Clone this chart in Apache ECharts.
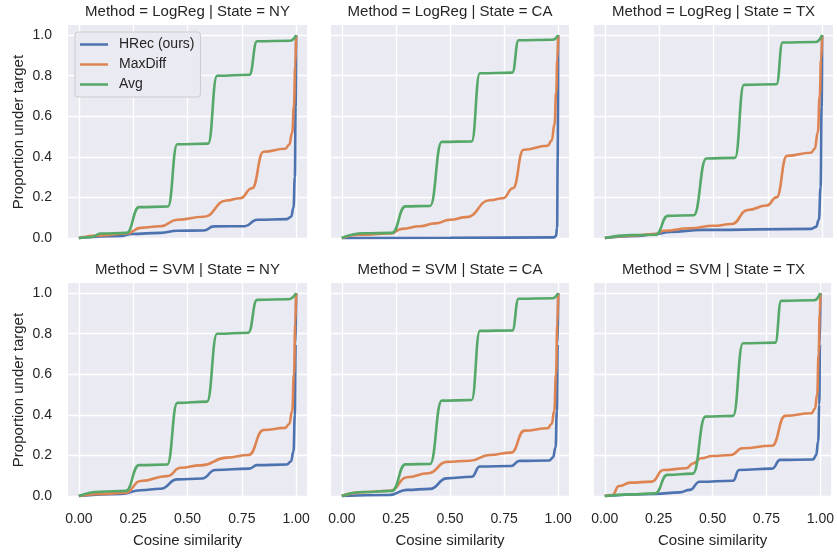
<!DOCTYPE html>
<html>
<head>
<meta charset="utf-8">
<script src="https://cdn.jsdelivr.net/npm/echarts@6/dist/echarts.min.js"></script>
<style>
html,body{margin:0;padding:0;background:#fff;}
#chart{width:837px;height:552px;}
</style>
</head>
<body>
<div id="chart"></div>
<script>
// ---- data ----
const panelTitles = [
  'Method = LogReg | State = NY', 'Method = LogReg | State = CA', 'Method = LogReg | State = TX',
  'Method = SVM | State = NY', 'Method = SVM | State = CA', 'Method = SVM | State = TX'
];
const seriesNames = ['HRec (ours)', 'MaxDiff', 'Avg'];
const xTicks = [0, 0.25, 0.5, 0.75, 1.0];
const xTickLabels = ['0.00', '0.25', '0.50', '0.75', '1.00'];
const yTicks = [0, 0.2, 0.4, 0.6, 0.8, 1.0];
const yTickLabels = ['0.0', '0.2', '0.4', '0.6', '0.8', '1.0'];
const xTitle = 'Cosine similarity';
const yTitle = 'Proportion under target';

// LogReg | NY
const logregNY_hrec = [[0,0],[0.2,0.01],[0.24,0.02],[0.376,0.025],[0.453,0.036],[0.575,0.037],[0.621,0.057],[0.765,0.058],[0.82,0.09],[0.957,0.093],[0.977,0.105],[0.988,0.15],[0.994,0.3],[0.998,0.65],[1.0,1.0]];
const logregNY_maxdiff = [[0,0],[0.10,0.013],[0.22,0.022],[0.284,0.05],[0.376,0.058],[0.453,0.09],[0.575,0.105],[0.68,0.185],[0.743,0.196],[0.797,0.245],[0.85,0.425],[0.95,0.44],[0.968,0.46],[0.982,0.52],[0.99,0.65],[0.996,0.85],[1.0,1.0]];
const logregNY_avg = [[0,0],[0.06,0.005],[0.10,0.022],[0.22,0.025],[0.277,0.152],[0.41,0.155],[0.453,0.462],[0.595,0.465],[0.636,0.80],[0.785,0.805],[0.82,0.97],[0.972,0.972],[1.0,1.0]];
// LogReg | CA
const logregCA_hrec = [[0,0],[0.5,0.001],[0.98,0.003],[0.99,0.01],[0.995,0.05],[0.998,0.4],[1.0,1.0]];
const logregCA_maxdiff = [[0,0],[0.08,0.016],[0.225,0.022],[0.278,0.045],[0.362,0.058],[0.431,0.072],[0.5,0.09],[0.576,0.103],[0.684,0.186],[0.745,0.196],[0.791,0.245],[0.84,0.435],[0.951,0.455],[0.97,0.48],[0.983,0.56],[0.991,0.72],[0.996,0.88],[1.0,1.0]];
const logregCA_avg = [[0,0],[0.102,0.023],[0.232,0.025],[0.294,0.156],[0.408,0.158],[0.462,0.474],[0.6,0.476],[0.638,0.812],[0.788,0.815],[0.817,0.975],[0.974,0.977],[1.0,1.0]];
// LogReg | TX
const logregTX_hrec = [[0,0],[0.15,0.01],[0.234,0.02],[0.3,0.03],[0.45,0.04],[0.95,0.045],[0.972,0.055],[0.985,0.09],[0.993,0.25],[0.998,0.65],[1.0,1.0]];
const logregTX_maxdiff = [[0,0],[0.1,0.01],[0.234,0.02],[0.272,0.036],[0.392,0.048],[0.5,0.06],[0.584,0.069],[0.658,0.138],[0.745,0.16],[0.79,0.2],[0.838,0.405],[0.949,0.42],[0.966,0.44],[0.98,0.52],[0.989,0.7],[0.995,0.88],[1.0,1.0]];
const logregTX_avg = [[0,0],[0.118,0.014],[0.234,0.016],[0.29,0.109],[0.409,0.112],[0.467,0.392],[0.599,0.395],[0.64,0.755],[0.79,0.758],[0.818,0.964],[0.971,0.966],[1.0,1.0]];
// SVM | NY
const svmNY_hrec = [[0,0],[0.193,0.01],[0.284,0.028],[0.376,0.036],[0.453,0.082],[0.567,0.086],[0.628,0.128],[0.785,0.135],[0.82,0.152],[0.957,0.155],[0.976,0.17],[0.988,0.22],[0.994,0.4],[0.998,0.75],[1.0,1.0]];
const svmNY_maxdiff = [[0,0],[0.1,0.01],[0.216,0.016],[0.284,0.074],[0.407,0.098],[0.468,0.139],[0.56,0.151],[0.682,0.189],[0.781,0.202],[0.85,0.325],[0.95,0.336],[0.968,0.355],[0.982,0.42],[0.99,0.6],[0.996,0.85],[1.0,1.0]];
const svmNY_avg = [[0,0],[0.1,0.021],[0.216,0.025],[0.277,0.152],[0.407,0.155],[0.453,0.459],[0.59,0.465],[0.636,0.80],[0.78,0.805],[0.82,0.967],[0.965,0.97],[1.0,1.0]];
// SVM | CA
const svmCA_hrec = [[0,0],[0.22,0.005],[0.301,0.03],[0.408,0.035],[0.485,0.087],[0.6,0.095],[0.638,0.145],[0.783,0.148],[0.821,0.173],[0.959,0.175],[0.976,0.19],[0.988,0.24],[0.994,0.42],[0.998,0.75],[1.0,1.0]];
const svmCA_maxdiff = [[0,0],[0.087,0.018],[0.225,0.026],[0.301,0.092],[0.4,0.112],[0.485,0.168],[0.592,0.174],[0.683,0.202],[0.783,0.214],[0.844,0.322],[0.951,0.334],[0.97,0.355],[0.982,0.42],[0.99,0.6],[0.996,0.85],[1.0,1.0]];
const svmCA_avg = [[0,0],[0.102,0.02],[0.232,0.025],[0.294,0.156],[0.408,0.158],[0.462,0.47],[0.6,0.473],[0.638,0.814],[0.788,0.816],[0.817,0.972],[0.974,0.975],[1.0,1.0]];
// SVM | TX
const svmTX_hrec = [[0,0],[0.234,0.01],[0.348,0.018],[0.394,0.03],[0.44,0.07],[0.595,0.075],[0.623,0.128],[0.776,0.135],[0.814,0.178],[0.966,0.18],[0.98,0.2],[0.99,0.27],[0.995,0.45],[0.998,0.75],[1.0,1.0]];
const svmTX_maxdiff = [[0,0],[0.035,0.005],[0.066,0.049],[0.119,0.066],[0.218,0.071],[0.272,0.128],[0.379,0.137],[0.409,0.16],[0.447,0.186],[0.5,0.197],[0.585,0.202],[0.638,0.235],[0.776,0.248],[0.837,0.395],[0.959,0.408],[0.975,0.43],[0.985,0.5],[0.992,0.7],[0.997,0.9],[1.0,1.0]];
const svmTX_avg = [[0,0],[0.119,0.008],[0.234,0.013],[0.29,0.104],[0.409,0.11],[0.467,0.391],[0.595,0.395],[0.641,0.753],[0.791,0.756],[0.818,0.962],[0.971,0.965],[1.0,1.0]];

const panelData = [
  [logregNY_hrec, logregNY_maxdiff, logregNY_avg],
  [logregCA_hrec, logregCA_maxdiff, logregCA_avg],
  [logregTX_hrec, logregTX_maxdiff, logregTX_avg],
  [svmNY_hrec, svmNY_maxdiff, svmNY_avg],
  [svmCA_hrec, svmCA_maxdiff, svmCA_avg],
  [svmTX_hrec, svmTX_maxdiff, svmTX_avg]
];

// ---- layout / style ----
const colors = ['#4C72B0', '#DD8452', '#55A868'];
const FONT = "'Liberation Sans', Arial, sans-serif";
const TXT = '#262626';
const colLeft = [68, 331, 594];
const colWidth = [239, 238, 239];
const rowTop = [25, 283];
const rowHeight = [214, 214];
const titleTop = [3, 261];

function lookup(ticks, labels, v) {
  for (let i = 0; i < ticks.length; i++) if (Math.abs(ticks[i] - v) < 1e-6) return labels[i];
  return '';
}

const grids = [], xAxes = [], yAxes = [], titles = [], series = [];
for (let p = 0; p < 6; p++) {
  const r = Math.floor(p / 3), c = p % 3;
  grids.push({
    left: colLeft[c], top: rowTop[r], width: colWidth[c], height: rowHeight[r],
    show: true, backgroundColor: '#EAEAF2', borderWidth: 0, containLabel: false
  });
  titles.push({
    text: panelTitles[p], left: colLeft[c] + colWidth[c] / 2, top: titleTop[r], textAlign: 'center', padding: 0,
    textStyle: { fontFamily: FONT, fontSize: 15, fontWeight: 'normal', color: TXT, lineHeight: 18 }
  });
  xAxes.push({
    type: 'value', gridIndex: p, min: -0.05, max: 1.05,
    axisLine: { show: false }, axisTick: { show: false, customValues: xTicks },
    splitLine: { show: true, lineStyle: { color: '#ffffff', width: 1.3 } },
    axisLabel: {
      show: r === 1, customValues: xTicks, margin: 15,
      fontFamily: FONT, fontSize: 14, color: TXT,
      formatter: v => lookup(xTicks, xTickLabels, v)
    },
    name: r === 1 ? xTitle : '', nameLocation: 'middle', nameGap: 36,
    nameTextStyle: { fontFamily: FONT, fontSize: 15, color: TXT }
  });
  yAxes.push({
    type: 'value', gridIndex: p, min: -0.005, max: 1.05,
    axisLine: { show: false }, axisTick: { show: false, customValues: yTicks },
    splitLine: { show: true, lineStyle: { color: '#ffffff', width: 1.3 } },
    axisLabel: {
      show: c === 0, customValues: yTicks, margin: 16,
      fontFamily: FONT, fontSize: 14, color: TXT, padding: [2, 0, 0, 0],
      formatter: v => lookup(yTicks, yTickLabels, v)
    },
    name: c === 0 ? yTitle : '', nameLocation: 'middle', nameGap: 42, nameRotate: 90,
    nameTextStyle: { fontFamily: FONT, fontSize: 15, color: TXT }
  });
  for (let s = 0; s < 3; s++) {
    series.push({
      name: seriesNames[s], type: 'line', xAxisIndex: p, yAxisIndex: p,
      data: panelData[p][s], smooth: 0.5, smoothMonotone: 'x',
      showSymbol: false, clip: false, animation: false,
      lineStyle: { color: colors[s], width: 2.6 }, itemStyle: { color: colors[s] },
      z: 2 + s
    });
  }
}

const chart = echarts.init(document.getElementById('chart'), null, { renderer: 'canvas' });
chart.setOption({
  animation: false,
  title: titles,
  grid: grids,
  xAxis: xAxes,
  yAxis: yAxes,
  legend: {
    data: seriesNames, orient: 'vertical', left: 75, top: 32,
    padding: [5, 6, 5, 5], itemGap: 5, itemWidth: 28, itemHeight: 2.5, icon: 'rect',
    backgroundColor: '#EAEAF2', borderColor: '#cccccc', borderWidth: 1, borderRadius: 3,
    textStyle: { fontFamily: FONT, fontSize: 14, color: TXT, lineHeight: 15, padding: [0, 0, 0, 6] }
  },
  series: series
});
</script>
</body>
</html>
